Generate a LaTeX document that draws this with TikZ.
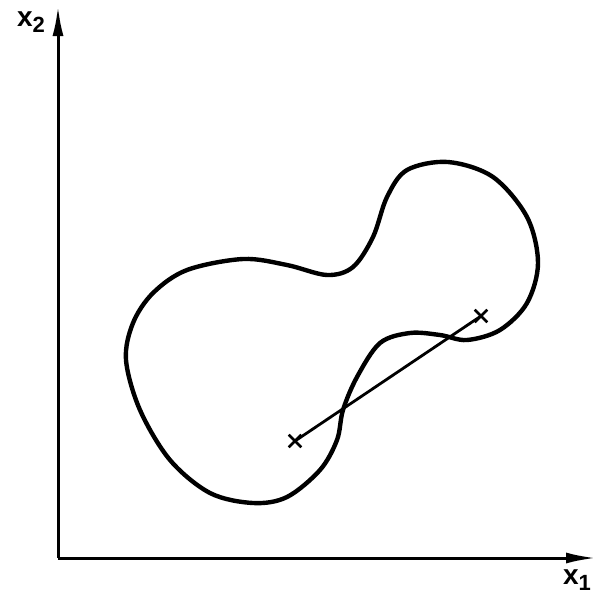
\documentclass[tikz,border=0pt]{standalone}
\usepackage{fontspec}
\setsansfont{Liberation Sans}
\usetikzlibrary{positioning, arrows.meta, shapes.misc}

\begin{document}
\begin{tikzpicture}[
        x=1pt, y=-1pt,
        axis/.style  = {line width=3pt, -{Latex[length=30pt, width=11pt]}},
        lbl/.style   = {font=\sffamily\bfseries\fontsize{28}{28}\selectfont, inner sep=0pt},
        pt/.style    = {cross out, draw, line width=2.6pt, minimum size=10pt, inner sep=0pt},
        region/.style = {line width=4.4pt, line join=round},
        chord/.style = {line width=2.8pt},
    ]
        \useasboundingbox (0,0) rectangle (607,595);
        % axes
        \coordinate (o)  at (58,558);
        \coordinate (y2) at (58,6);
        \coordinate (y1) at (596,558);
        \draw[axis] (o) -- (y2);
        \draw[axis] (o) -- (y1);
        \node[lbl] (lx2) at (31,22) {x\raisebox{-6pt}{\fontsize{22}{22}\selectfont 2}};
        \node[lbl] (lx1) at (577,580) {x\raisebox{-6pt}{\fontsize{22}{22}\selectfont 1}};
        % nonconvex set
        \draw[region] plot[smooth cycle, tension=0.55] coordinates {
            (126,360) (133,323) (153,293) (187,270) (243,259) (287,265)
            (327,275) (353,267) (373,237) (387,197) (407,170) (448,162)
            (493,177) (527,217) (538,263) (527,303) (500,330) (467,340)
            (440,335) (410,333) (380,343) (357,377) (343,410) (337,440)
            (320,470) (287,497) (253,503) (210,493) (170,460) (140,410)};
        % chord between two points
        \node[pt] (p) at (295,441) {};
        \node[pt] (q) at (481,316) {};
        \draw[chord] (p.center) -- (q.center);
    \end{tikzpicture}
\end{document}
